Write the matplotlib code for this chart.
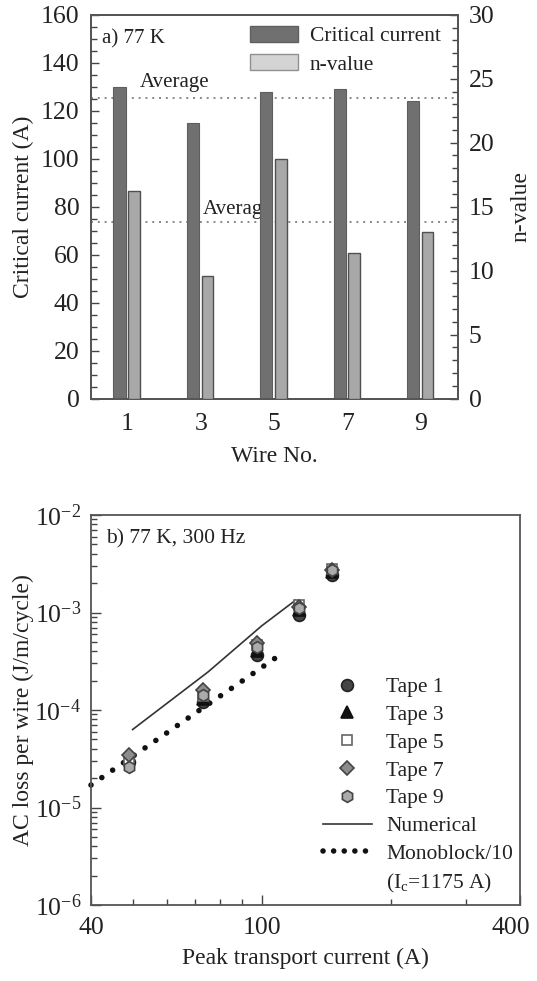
import numpy as np
import matplotlib
matplotlib.use("Agg")
import matplotlib.pyplot as plt
from matplotlib.patches import Patch
from matplotlib.lines import Line2D
from matplotlib.transforms import ScaledTranslation
from matplotlib.ticker import MultipleLocator, FixedLocator, NullFormatter, LogLocator

plt.rcParams['font.family'] = ['Liberation Serif', 'DejaVu Serif']
plt.rcParams['mathtext.fontset'] = 'custom'
plt.rcParams['mathtext.rm'] = 'Liberation Serif'
plt.rcParams['mathtext.it'] = 'Liberation Serif:italic'
plt.rcParams['text.color'] = '#222222'
plt.rcParams['axes.labelcolor'] = '#222222'
plt.rcParams['xtick.color'] = '#444444'
plt.rcParams['ytick.color'] = '#444444'
plt.rcParams['xtick.labelcolor'] = '#222222'
plt.rcParams['ytick.labelcolor'] = '#222222'

# panel a) data
wires = [1, 3, 5, 7, 9]
crit_current = [130, 115, 128, 129, 124]
n_value = [16.2, 9.6, 18.75, 11.4, 13.0]

# panel b) data
i_peak = [49, 73, 97.5, 122, 146]
tape_loss = {
    'Tape 1': [2.95e-5, 1.22e-4, 3.66e-4, 9.4e-4, 2.43e-3],
    'Tape 3': [3.2e-5, 1.3e-4, 4.0e-4, 1.05e-3, 2.6e-3],
    'Tape 5': [3.0e-5, 1.4e-4, 4.6e-4, 1.2e-3, 2.8e-3],
    'Tape 7': [3.45e-5, 1.6e-4, 4.83e-4, 1.15e-3, 2.7e-3],
    'Tape 9': [2.58e-5, 1.43e-4, 4.4e-4, 1.1e-3, 2.73e-3],
}
num_i = [50, 75, 100, 120]
num_loss = [6.3e-5, 2.46e-4, 7.3e-4, 1.34e-3]
mono_i = [40, 50, 60, 70, 80, 90, 100, 113]
mono_loss = [1.7e-5, 3.34e-5, 5.8e-5, 9.3e-5, 1.39e-4, 1.98e-4, 2.73e-4, 3.96e-4]

W, H = 537, 981
fig = plt.figure(figsize=(W / 100, H / 100), dpi=100)

def fx(px):
    return px / W

def fy(py):
    return 1 - py / H

TICK = 18.5
LAB = 17

# ---------------- panel a ----------------
ax1 = fig.add_axes([fx(90.7), fy(398.7), (457.7 - 90.7) / W, 384 / H])
ax1.set_xlim(0, 10)
ax1.set_ylim(0, 160)
ax1b = ax1.twinx()
ax1b.set_ylim(0, 30)

x = np.array(wires, dtype=float)
ax1.bar(x - 0.215, crit_current, width=0.33, color='#707070', edgecolor='#5e5e5e',
        linewidth=0.8, zorder=3)
ax1b.bar(x + 0.18, n_value, width=0.32, color='#a8a8a8', edgecolor='#505050',
         linewidth=1.0, zorder=3)

avg_ic = np.mean(crit_current)
avg_n = np.mean(n_value)
ax1.axhline(avg_ic, color='#888888', ls=(0, (1, 2.5)), lw=1.4, zorder=1)
ax1.axhline(avg_n * 160 / 30, color='#888888', ls=(0, (1, 2.5)), lw=1.4, zorder=1)
ax1.text(1.35, avg_ic + 4.5, 'Average', fontsize=15, zorder=2)
ax1.text(3.05, avg_n * 160 / 30 + 3.5, 'Average', fontsize=15, zorder=2)
ax1.text(0.3, 150, 'a) 77 K', fontsize=15, va='center')

ax1.set_xticks(wires)
ax1.set_xticklabels([str(w) for w in wires])
ax1.tick_params(axis='x', length=0, pad=10, labelsize=TICK)
ax1.yaxis.set_major_locator(MultipleLocator(20))
ax1.yaxis.set_minor_locator(MultipleLocator(5))
ax1.tick_params(axis='y', which='both', direction='in', labelsize=TICK, pad=8)
ax1.tick_params(axis='y', which='major', length=6, width=1)
ax1.tick_params(axis='y', which='minor', length=4, width=1)
ax1b.yaxis.set_major_locator(MultipleLocator(5))
ax1b.yaxis.set_minor_locator(MultipleLocator(1))
ax1b.tick_params(axis='y', which='both', direction='in', labelsize=TICK, pad=8)
ax1b.tick_params(axis='y', which='major', length=6, width=1)
ax1b.tick_params(axis='y', which='minor', length=4, width=1)

for a in (ax1, ax1b):
    for s in a.spines.values():
        s.set_color('#555555')
        s.set_linewidth(1.3)

ax1.set_xlabel('Wire No.', fontsize=LAB)
ax1.set_ylabel('Critical current (A)', fontsize=LAB)
ax1b.set_ylabel('n-value', fontsize=LAB)
ax1.xaxis.set_label_coords(0.5, -0.123)
ax1.yaxis.set_label_coords(-0.154, 0.5)
ax1b.yaxis.set_label_coords(1.1425, 0.5)

leg_a = [Patch(facecolor='#707070', edgecolor='#606060', label='Critical current'),
         Patch(facecolor='#d4d4d4', edgecolor='#909090', label='n-value')]
ax1b.legend(handles=leg_a, loc='upper left', bbox_to_anchor=(fx(249.7), fy(26)),
            bbox_transform=fig.transFigure, frameon=False, fontsize=15.5,
            handlelength=2.25, handleheight=0.75, handletextpad=0.55,
            labelspacing=0.36, borderpad=0, borderaxespad=0)

# ---------------- panel b ----------------
ax2 = fig.add_axes([fx(91), fy(905), 429 / W, 390 / H])
ax2.set_xscale('log')
ax2.set_yscale('log')
ax2.set_xlim(40, 400)
ax2.set_ylim(1e-6, 1e-2)

ax2.plot(num_i, num_loss, color='#333333', lw=1.2, zorder=2)
ax2.plot(mono_i, mono_loss, color='#111111', lw=4.0, ls=(0, (0.01, 2.35)),
         dash_capstyle='round', zorder=2, clip_on=False)

styles = {
    'Tape 1': dict(marker='o', mfc='#454545', mec='#222222', ms=8.5),
    'Tape 3': dict(marker='^', mfc='#111111', mec='#111111', ms=8.5),
    'Tape 5': dict(marker='s', mfc='white', mec='#666666', ms=6.5),
    'Tape 7': dict(marker='D', mfc='#8c8c8c', mec='#444444', ms=7.5),
    'Tape 9': dict(marker='h', mfc='#ababab', mec='#444444', ms=8.5),
}
handles = []
for name, vals in tape_loss.items():
    st = styles[name]
    ax2.plot(i_peak, vals, ls='none', mew=1.2, zorder=3, **st)
    handles.append(Line2D([], [], ls='none', mew=1.2, label=name, **st))
handles.append(Line2D([], [], color='#333333', lw=1.2, label='Numerical'))
handles.append(Line2D([], [], color='#111111', lw=4.0, ls=(0, (0.01, 1.9)),
                      dash_capstyle='round', label='Monoblock/10'))
handles.append(Line2D([], [], ls='none', label='(I$_\\mathrm{c}$=1175 A)'))

ax2.legend(handles=handles, loc='upper left', bbox_to_anchor=(fx(322.7), fy(677)),
           bbox_transform=fig.transFigure, frameon=False, fontsize=15.5,
           handlelength=2.3, handletextpad=0.65, labelspacing=0.36,
           borderpad=0, borderaxespad=0)

ax2.text(0.036, 0.94, 'b) 77 K, 300 Hz', transform=ax2.transAxes, fontsize=15.5,
         va='center')

ax2.xaxis.set_major_locator(FixedLocator([40, 100, 400]))
ax2.xaxis.set_major_formatter(plt.FuncFormatter(lambda v, p: '%d' % v))
ax2.xaxis.set_minor_locator(FixedLocator([50, 60, 70, 80, 90, 200, 300]))
ax2.xaxis.set_minor_formatter(NullFormatter())
ax2.yaxis.set_major_locator(LogLocator(base=10, numticks=10))
ax2.yaxis.set_minor_locator(LogLocator(base=10, subs=np.arange(2, 10), numticks=20))
ax2.yaxis.set_minor_formatter(NullFormatter())
ax2.tick_params(which='both', direction='in', labelsize=TICK)
ax2.tick_params(which='major', length=7, width=1)
ax2.tick_params(which='minor', length=4, width=1)
ax2.tick_params(axis='x', pad=9)
ax2.tick_params(axis='y', pad=7)
for s in ax2.spines.values():
    s.set_color('#555555')
    s.set_linewidth(1.3)

# keep the "400" label inside the picture, as in the reference
lbl = ax2.get_xticklabels()[-1]
lbl.set_transform(lbl.get_transform() + ScaledTranslation(-0.09, 0, fig.dpi_scale_trans))

ax2.set_xlabel('Peak transport current (A)', fontsize=LAB)
ax2.set_ylabel('AC loss per wire (J/m/cycle)', fontsize=LAB)
ax2.xaxis.set_label_coords(0.5, -0.11)
ax2.yaxis.set_label_coords(-0.133, 0.5)

fig.savefig('out.png', dpi=100)
